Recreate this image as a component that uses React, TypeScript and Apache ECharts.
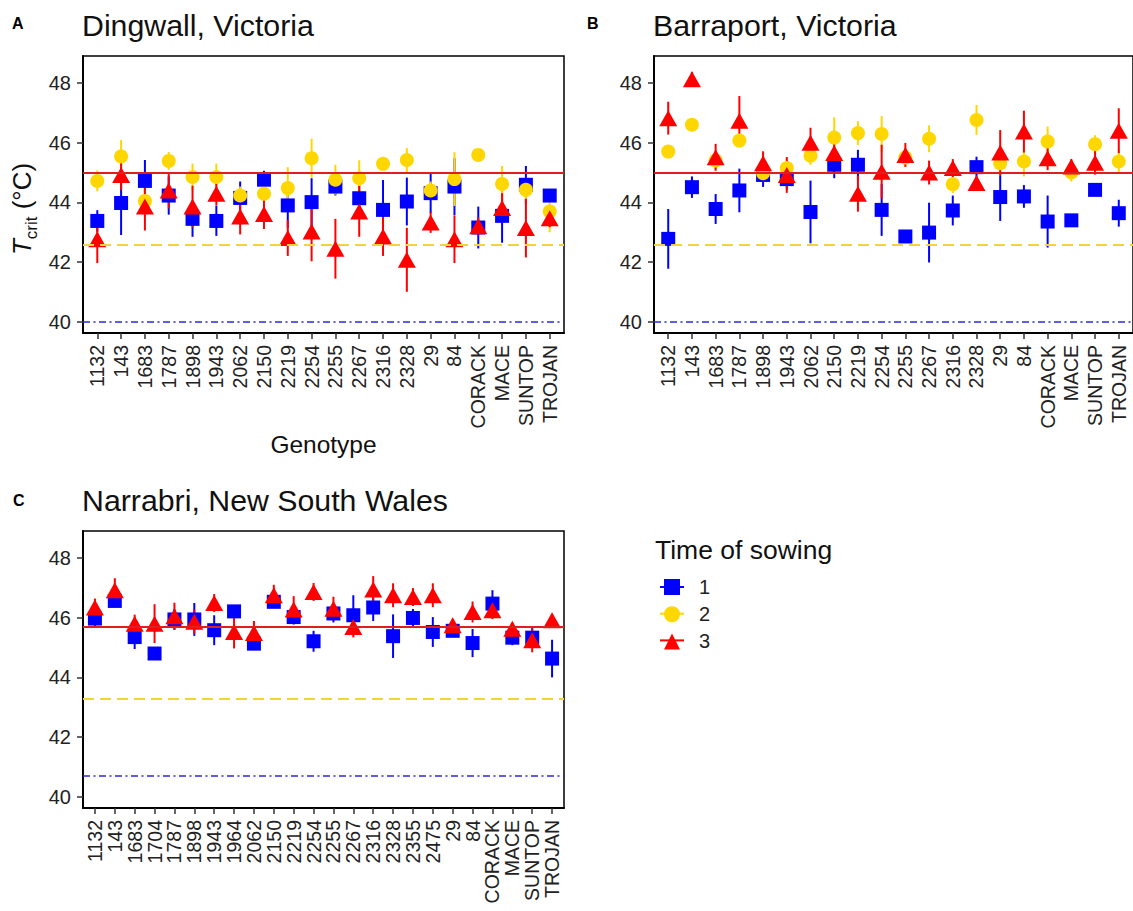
import React, { useEffect, useRef } from 'react';
import * as echarts from 'echarts';

const FONT = "'Liberation Sans', Arial, Helvetica, sans-serif";

// ---------- categories ----------
const victoriaGenotypes = ['1132', '143', '1683', '1787', '1898', '1943', '2062', '2150', '2219', '2254', '2255', '2267', '2316', '2328', '29', '84', 'CORACK', 'MACE', 'SUNTOP', 'TROJAN'];
const narrabriGenotypes = ['1132', '143', '1683', '1704', '1787', '1898', '1943', '1964', '2062', '2150', '2219', '2254', '2255', '2267', '2316', '2328', '2355', '2475', '29', '84', 'CORACK', 'MACE', 'SUNTOP', 'TROJAN'];

// ---------- Dingwall (A) ----------
const dingwallTos1 = [43.38, 43.98, 44.72, 44.23, 43.45, 43.38, 44.15, 44.76, 43.9, 44.01, 44.53, 44.14, 43.75, 44.03, 44.31, 44.53, 43.16, 43.55, 44.59, 44.23];
const dingwallTos1Err = [0.36, 1.07, 0.7, 0.64, 0.6, 0.5, 0.55, 0.3, 0.75, 0.8, 0.3, 0.6, 1.0, 0.8, 0.67, 0.95, 0.7, 0.9, 0.63, 0.2];
const dingwallTos2 = [44.72, 45.54, 44.05, 45.39, 44.85, 44.85, 44.23, 44.29, 44.48, 45.48, 44.76, 44.81, 45.29, 45.42, 44.4, 44.78, 45.59, 44.62, 44.42, 43.7];
const dingwallTos2Err = [0.35, 0.55, 0.4, 0.3, 0.45, 0.45, 0.3, 0.3, 0.7, 0.65, 0.5, 0.6, 0.2, 0.4, 0.3, 0.9, 0.2, 0.6, 0.4, 0.7];
const dingwallTos3 = [42.77, 44.92, 43.86, 44.4, 43.86, 44.29, 43.53, 43.61, 42.81, 43.03, 42.45, 43.7, 42.86, 42.08, 43.33, 42.77, 43.2, 43.81, 43.14, 43.47];
const dingwallTos3Err = [0.8, 0.5, 0.8, 0.6, 0.7, 0.4, 0.6, 0.5, 0.6, 1.0, 1.0, 0.85, 0.65, 1.07, 0.35, 0.8, 0.3, 0.5, 0.98, 0.3];
const dingwallRefs = [45.0, 42.6, 40.0];

// ---------- Barraport (B) ----------
const barraportTos1 = [42.78, 44.51, 43.78, 44.4, 44.92, 44.78, 43.68, 45.26, 45.26, 43.75, 42.86, 42.99, 43.73, 45.18, 44.18, 44.2, 43.36, 43.4, 44.42, 43.64];
const barraportTos1Err = [1.0, 0.36, 0.5, 0.73, 0.4, 0.35, 1.05, 0.45, 0.5, 0.87, 0.15, 1.0, 0.5, 0.35, 0.8, 0.38, 0.87, 0.15, 0.2, 0.45];
const barraportTos2 = [45.7, 46.6, 45.4, 46.07, 44.98, 45.15, 45.56, 46.17, 46.32, 46.29, 45.5, 46.13, 44.61, 46.76, 45.31, 45.37, 46.04, 45.0, 45.95, 45.37];
const barraportTos2Err = [0.2, 0.1, 0.3, 0.2, 0.3, 0.3, 0.3, 0.68, 0.4, 0.6, 0.3, 0.45, 0.3, 0.5, 0.4, 0.5, 0.5, 0.3, 0.3, 0.4];
const barraportTos3 = [46.82, 48.12, 45.51, 46.73, 45.31, 44.92, 46.0, 45.65, 44.29, 45.03, 45.59, 45.0, 45.15, 44.65, 45.67, 46.37, 45.48, 45.2, 45.33, 46.4];
const barraportTos3Err = [0.55, 0.25, 0.45, 0.83, 0.4, 0.6, 0.5, 0.5, 0.6, 0.9, 0.4, 0.4, 0.3, 0.2, 0.75, 0.7, 0.4, 0.25, 0.4, 0.75];
const barraportRefs = [45.0, 42.6, 40.0];

// ---------- Narrabri (C) ----------
const narrabriTos1 = [45.97, 46.56, 45.35, 44.8, 45.94, 45.94, 45.58, 46.21, 45.13, 46.53, 46.02, 45.21, 46.14, 46.08, 46.34, 45.38, 45.99, 45.52, 45.56, 45.15, 46.47, 45.33, 45.33, 44.63];
const narrabriTos1Err = [0.25, 0.2, 0.4, 0.15, 0.35, 0.55, 0.5, 0.2, 0.2, 0.2, 0.25, 0.35, 0.3, 0.67, 0.45, 0.73, 0.3, 0.5, 0.2, 0.47, 0.45, 0.25, 0.35, 0.63];
const narrabriTos3 = [46.34, 46.92, 45.8, 45.8, 46.05, 45.86, 46.49, 45.52, 45.49, 46.75, 46.27, 46.86, 46.3, 45.69, 46.94, 46.75, 46.69, 46.75, 45.75, 46.19, 46.25, 45.63, 45.24, 45.91];
const narrabriTos3Err = [0.3, 0.4, 0.3, 0.65, 0.45, 0.4, 0.3, 0.55, 0.4, 0.35, 0.45, 0.3, 0.4, 0.35, 0.45, 0.4, 0.3, 0.4, 0.2, 0.35, 0.3, 0.2, 0.4, 0.2];
const narrabriRefs = [45.7, 43.3, 40.7];

const yTicks = [40, 42, 44, 46, 48];
const sowingTimes = ['1', '2', '3'];

const COLORS = { '1': '#0000ff', '2': '#ffd700', '3': '#ff0000' };
const SYMBOLS = { '1': 'rect', '2': 'circle', '3': 'triangle' };
const SIZES = { '1': 14, '2': 14, '3': [18, 16] };

type Tos = { name: string; mean: number[]; err: number[] };
type Panel = {
  letter: string;
  title: string;
  cats: string[];
  tos: Tos[];
  refs: number[];
  rect: { left: number; top: number; width: number; height: number };
  letterPos: { left: number; top: number };
  xName?: string;
  yName?: boolean;
};

const panels: Panel[] = [
  {
    letter: 'A', title: 'Dingwall, Victoria', cats: victoriaGenotypes,
    tos: [
      { name: '1', mean: dingwallTos1, err: dingwallTos1Err },
      { name: '2', mean: dingwallTos2, err: dingwallTos2Err },
      { name: '3', mean: dingwallTos3, err: dingwallTos3Err },
    ],
    refs: dingwallRefs,
    rect: { left: 83, top: 56, width: 481, height: 277 },
    letterPos: { left: 12, top: 15 },
    xName: 'Genotype', yName: true,
  },
  {
    letter: 'B', title: 'Barraport, Victoria', cats: victoriaGenotypes,
    tos: [
      { name: '1', mean: barraportTos1, err: barraportTos1Err },
      { name: '2', mean: barraportTos2, err: barraportTos2Err },
      { name: '3', mean: barraportTos3, err: barraportTos3Err },
    ],
    refs: barraportRefs,
    rect: { left: 654, top: 56, width: 482, height: 277 },
    letterPos: { left: 587, top: 15 },
  },
  {
    letter: 'C', title: 'Narrabri, New South Wales', cats: narrabriGenotypes,
    tos: [
      { name: '1', mean: narrabriTos1, err: narrabriTos1Err },
      { name: '3', mean: narrabriTos3, err: narrabriTos3Err },
    ],
    refs: narrabriRefs,
    rect: { left: 83, top: 531, width: 481, height: 277 },
    letterPos: { left: 13, top: 492 },
  },
];

function buildOption() {
  const grid: any[] = [];
  const xAxis: any[] = [];
  const yAxis: any[] = [];
  const series: any[] = [];
  const title: any[] = [];

  panels.forEach((p, idx) => {
    grid.push({ ...p.rect, show: true, borderColor: '#000', borderWidth: 1.5, backgroundColor: 'transparent' });
    const idxs = p.cats.map((_, i) => i);
    xAxis.push({
      gridIndex: idx,
      type: 'value',
      min: -0.6,
      max: p.cats.length - 1 + 0.6,
      splitLine: { show: false },
      axisLine: { show: true, onZero: false, lineStyle: { color: '#000', width: 2 } },
      axisTick: { show: true, customValues: idxs, length: 6, lineStyle: { color: '#333', width: 1.5 } },
      axisLabel: {
        customValues: idxs,
        formatter: (v: number) => p.cats[Math.round(v)] ?? '',
        rotate: 90, margin: 12, fontSize: 19.5, color: '#222', fontFamily: FONT,
      },
      name: p.xName || '',
      nameLocation: 'middle',
      nameGap: 86,
      nameTextStyle: { fontSize: 24.5, color: '#111', fontFamily: FONT, verticalAlign: 'top' },
    });
    yAxis.push({
      gridIndex: idx,
      type: 'value',
      min: 39.63,
      max: 48.9,
      splitLine: { show: false },
      axisLine: { show: true, onZero: false, lineStyle: { color: '#000', width: 2 } },
      axisTick: { show: true, customValues: yTicks, length: 6, lineStyle: { color: '#333', width: 1.5 } },
      axisLabel: { customValues: yTicks, margin: 12, fontSize: 20, color: '#222', fontFamily: FONT },
      name: p.yName ? '{it|T}{sub|crit} (°C)    ' : '',
      nameLocation: 'middle',
      nameGap: 48,
      nameTextStyle: {
        fontSize: 26, color: '#111', fontFamily: FONT,
        rich: {
          it: { fontStyle: 'italic', fontSize: 26, color: '#111', fontFamily: FONT },
          sub: { fontSize: 17, color: '#111', fontFamily: FONT, verticalAlign: 'bottom', padding: [0, 0, -5, 0] },
        },
      },
    });

    title.push({
      text: p.letter, left: p.letterPos.left, top: p.letterPos.top, padding: 0,
      textStyle: { fontSize: 16, fontWeight: 'bold', color: '#000', fontFamily: FONT },
    });
    title.push({
      text: p.title, left: p.rect.left - 1, top: p.rect.top - 46, padding: 0,
      textStyle: { fontSize: 30.3, fontWeight: 'normal', color: '#111', fontFamily: FONT },
    });

    // reference lines
    series.push({
      type: 'line', name: 'ref' + idx, xAxisIndex: idx, yAxisIndex: idx, data: [], silent: true, z: 1,
      markLine: {
        silent: true, symbol: ['none', 'none'], label: { show: false }, animation: false,
        data: [
          { yAxis: p.refs[0], lineStyle: { color: '#dd1f1f', type: 'solid', width: 2 } },
          { yAxis: p.refs[1], lineStyle: { color: '#f2d43a', type: [11, 6], width: 2 } },
          { yAxis: p.refs[2], lineStyle: { color: '#2a2ad4', type: [7, 3.5, 2, 3.5], width: 1.5 } },
        ],
      },
    });

    // error bars
    p.tos.forEach((t) => {
      const color = (COLORS as any)[t.name];
      series.push({
        type: 'custom', name: 'err' + idx + '-' + t.name, xAxisIndex: idx, yAxisIndex: idx, silent: true, z: 2,
        encode: { x: 0, y: [1, 2] },
        data: t.mean.map((m, i) => [i, m - t.err[i], m + t.err[i]]),
        renderItem: (params: any, api: any) => {
          const x = api.value(0);
          const p1 = api.coord([x, api.value(1)]);
          const p2 = api.coord([x, api.value(2)]);
          return {
            type: 'line',
            shape: { x1: p1[0], y1: p1[1], x2: p2[0], y2: p2[1] },
            style: { stroke: color, lineWidth: 2 },
          };
        },
      });
    });
    // points
    p.tos.forEach((t) => {
      series.push({
        type: 'scatter', name: t.name, xAxisIndex: idx, yAxisIndex: idx, z: 3,
        symbol: (SYMBOLS as any)[t.name],
        symbolSize: (SIZES as any)[t.name],
        itemStyle: { color: (COLORS as any)[t.name], opacity: 1 },
        emphasis: { disabled: true },
        data: t.mean.map((m, i) => [i, m]),
      });
    });
  });

  title.push({
    text: 'Time of sowing', left: 655, top: 536, padding: 0,
    textStyle: { fontSize: 26.5, fontWeight: 'normal', color: '#111', fontFamily: FONT },
  });

  const legendTop = 577;
  const step = 26.7;
  const gap = 7.2;
  const graphic = sowingTimes.map((s, i) => ({
    type: 'line', z: 1,
    shape: { x1: 660, y1: legendTop + 10 + i * step, x2: 684, y2: legendTop + 10 + i * step },
    style: { stroke: (COLORS as any)[s], lineWidth: 2 },
  }));

  return {
    animation: false,
    backgroundColor: '#fff',
    title,
    grid,
    xAxis,
    yAxis,
    series,
    graphic,
    legend: {
      orient: 'vertical', left: 664, top: legendTop, padding: 0,
      itemWidth: 16, itemHeight: 16, itemGap: gap, selectedMode: false,
      data: sowingTimes.map((s) => ({ name: s, icon: (SYMBOLS as any)[s] })),
      textStyle: { fontSize: 20, color: '#222', fontFamily: FONT, padding: [0, 0, 0, 14] },
    },
  };
}

export default function App() {
  const ref = useRef<HTMLDivElement>(null);
  useEffect(() => {
    if (!ref.current) return;
    const chart = echarts.init(ref.current, undefined, { renderer: 'svg' });
    chart.setOption(buildOption() as any);
    return () => chart.dispose();
  }, []);
  return (
    <div
      ref={ref}
      style={{ position: 'fixed', left: 0, top: 0, width: 1133, height: 911, background: '#fff' }}
    />
  );
}
